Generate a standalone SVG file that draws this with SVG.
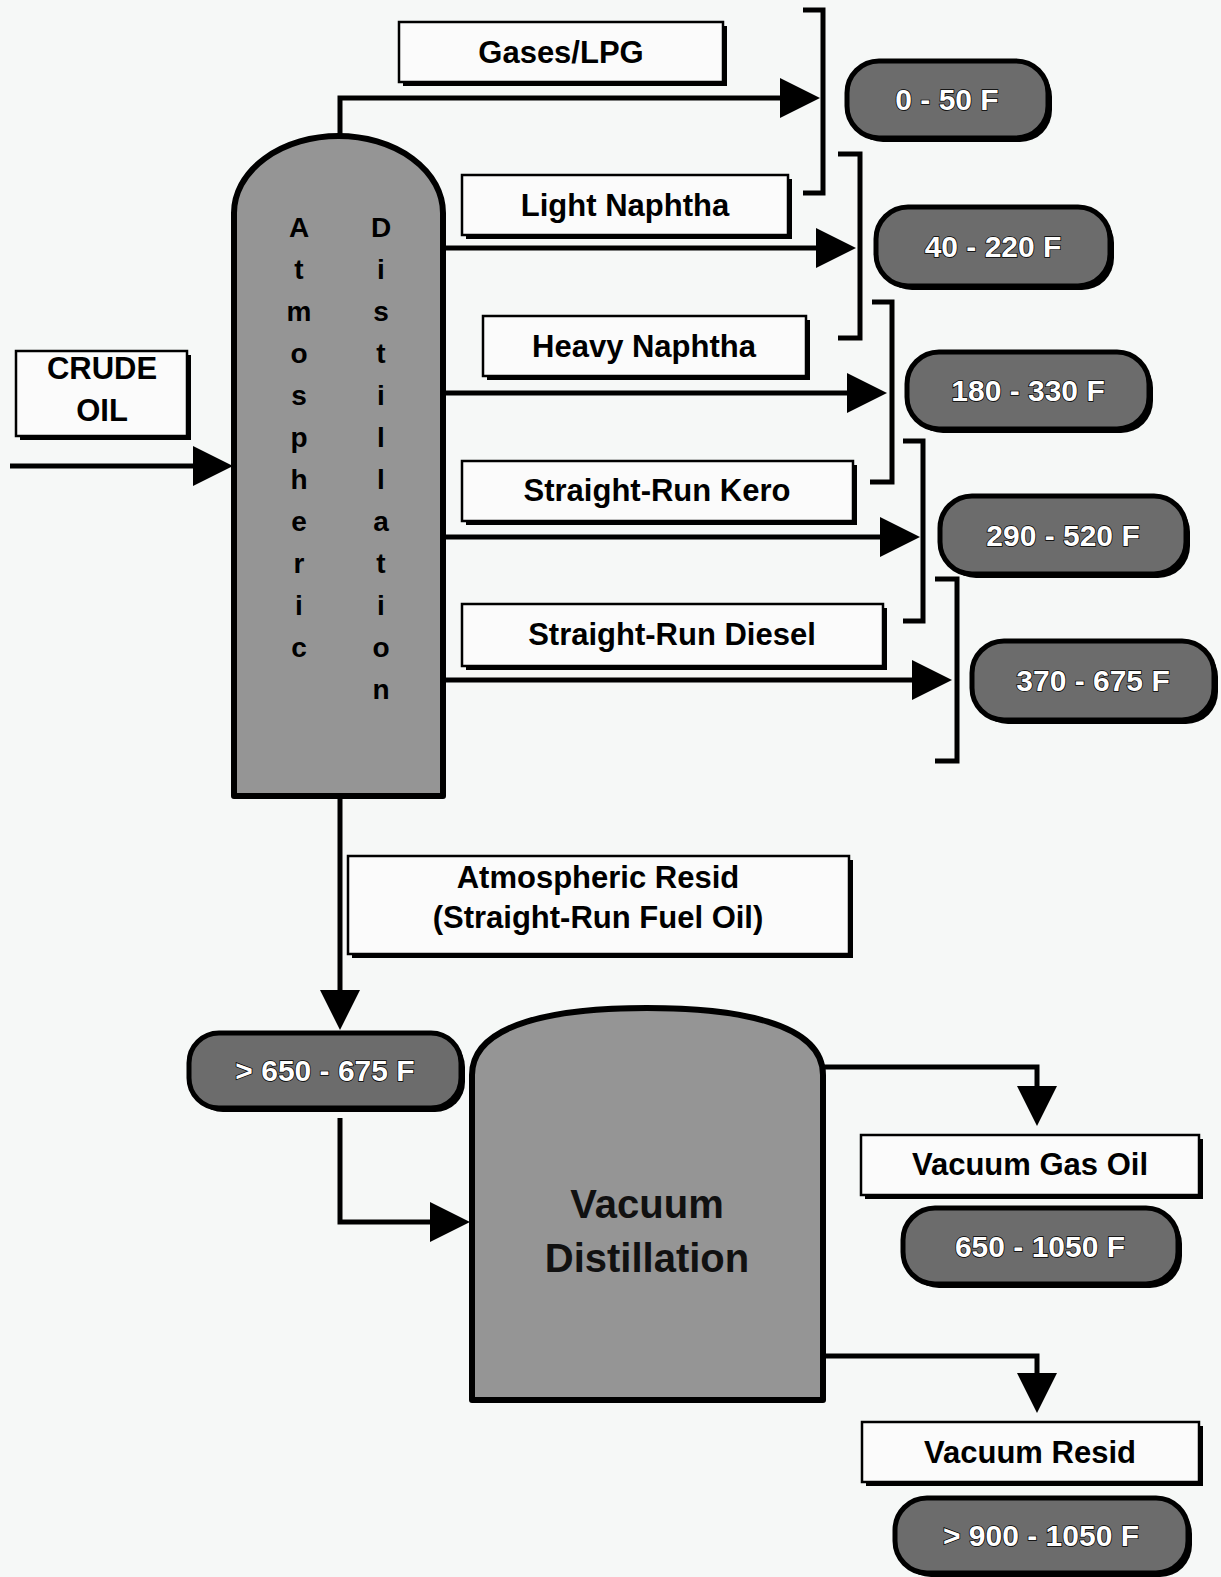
<svg xmlns="http://www.w3.org/2000/svg" width="1221" height="1577" viewBox="0 0 1221 1577">
<style>
.bg{fill:#f6f8f7}
.col{fill:#959595;stroke:#000;stroke-width:6;stroke-linejoin:round}
.box{fill:#fbfbfb;stroke:#000;stroke-width:2.5}
.sh{fill:#000}
.pill{fill:#6c6c6c;stroke:#000;stroke-width:5}
.lbl{font-family:"Liberation Sans",Arial,sans-serif;font-weight:bold;font-size:31px;fill:#000;text-anchor:middle}
.tmp{font-family:"Liberation Sans",Arial,sans-serif;font-weight:bold;font-size:30px;fill:#fff;stroke:#000;stroke-width:1.5;paint-order:stroke;text-anchor:middle}
.vert{font-family:"Liberation Sans",Arial,sans-serif;font-weight:bold;font-size:28px;fill:#000;text-anchor:middle}
.big{font-family:"Liberation Sans",Arial,sans-serif;font-weight:bold;font-size:40px;fill:#111;text-anchor:middle}
.ln{fill:none;stroke:#000;stroke-width:5;stroke-linejoin:miter}
.ar{fill:none;stroke:#000;stroke-width:5;marker-end:url(#ah)}
</style>
<defs>
<marker id="ah" markerUnits="userSpaceOnUse" markerWidth="44" markerHeight="44" refX="20" refY="20" orient="auto" viewBox="0 0 44 44">
<path d="M0,0 L40,20 L0,40 Z" fill="#000"/>
</marker>
</defs>
<rect class="bg" x="0" y="0" width="1221" height="1577"/>

<g id="connectors">
<path class="ar" d="M340,136 V98 H800"/>
<path class="ar" d="M443,248 H836"/>
<path class="ar" d="M443,393 H867"/>
<path class="ar" d="M443,537 H900"/>
<path class="ar" d="M443,680 H932"/>
<path class="ar" d="M10,466 H213"/>
<path class="ar" d="M340,796 V1010"/>
<path class="ar" d="M340,1118 V1222 H450"/>
<path class="ar" d="M823,1067 H1037 V1106"/>
<path class="ar" d="M823,1356 H1037 V1393"/>
<path class="ln" d="M803,10 H823 V193 H803"/>
<path class="ln" d="M838,154 H860 V338 H838"/>
<path class="ln" d="M872,302 H892 V482 H870"/>
<path class="ln" d="M903,441 H923 V621 H903"/>
<path class="ln" d="M935,579 H957 V761 H935"/>
</g>

<g id="atmospheric-column">
<path class="col" d="M234,796 V213 A104.5,77 0 0 1 443,213 V796 Z"/>
<text class="vert" x="299" y="237"><tspan x="299">A</tspan><tspan x="299" dy="42">t</tspan><tspan x="299" dy="42">m</tspan><tspan x="299" dy="42">o</tspan><tspan x="299" dy="42">s</tspan><tspan x="299" dy="42">p</tspan><tspan x="299" dy="42">h</tspan><tspan x="299" dy="42">e</tspan><tspan x="299" dy="42">r</tspan><tspan x="299" dy="42">i</tspan><tspan x="299" dy="42">c</tspan></text>
<text class="vert" x="381" y="237"><tspan x="381">D</tspan><tspan x="381" dy="42">i</tspan><tspan x="381" dy="42">s</tspan><tspan x="381" dy="42">t</tspan><tspan x="381" dy="42">i</tspan><tspan x="381" dy="42">l</tspan><tspan x="381" dy="42">l</tspan><tspan x="381" dy="42">a</tspan><tspan x="381" dy="42">t</tspan><tspan x="381" dy="42">i</tspan><tspan x="381" dy="42">o</tspan><tspan x="381" dy="42">n</tspan></text>
</g>

<g id="vacuum-column">
<path class="col" d="M472,1400 V1075 C472,1022 560,1008 647,1008 C734,1008 823,1022 823,1075 V1400 Z"/>
<text class="big" x="647" y="1218">Vacuum</text>
<text class="big" x="647" y="1272">Distillation</text>
</g>

<g id="crude-oil">
<rect class="sh" x="20" y="355" width="171" height="85"/>
<rect class="box" x="16" y="351" width="171" height="85"/>
<text class="lbl" x="102" y="379">CRUDE</text>
<text class="lbl" x="102" y="421">OIL</text>
</g>

<g id="gases-lpg">
<rect class="sh" x="403" y="26" width="324" height="60"/>
<rect class="box" x="399" y="22" width="324" height="60"/>
<text class="lbl" x="561" y="63">Gases/LPG</text>
</g>
<g id="light-naphtha">
<rect class="sh" x="466" y="179" width="326" height="60"/>
<rect class="box" x="462" y="175" width="326" height="60"/>
<text class="lbl" x="625" y="216">Light Naphtha</text>
</g>
<g id="heavy-naphtha">
<rect class="sh" x="487" y="320" width="323" height="60"/>
<rect class="box" x="483" y="316" width="323" height="60"/>
<text class="lbl" x="644" y="357">Heavy Naphtha</text>
</g>
<g id="straight-run-kero">
<rect class="sh" x="466" y="465" width="391" height="60"/>
<rect class="box" x="462" y="461" width="391" height="60"/>
<text class="lbl" x="657" y="501">Straight-Run Kero</text>
</g>
<g id="straight-run-diesel">
<rect class="sh" x="466" y="608" width="421" height="62"/>
<rect class="box" x="462" y="604" width="421" height="62"/>
<text class="lbl" x="672" y="645">Straight-Run Diesel</text>
</g>
<g id="atmospheric-resid">
<rect class="sh" x="352" y="860" width="501" height="98"/>
<rect class="box" x="348" y="856" width="501" height="98"/>
<text class="lbl" x="598" y="888">Atmospheric Resid</text>
<text class="lbl" x="598" y="928">(Straight-Run Fuel Oil)</text>
</g>
<g id="vacuum-gas-oil">
<rect class="sh" x="865" y="1139" width="338" height="60"/>
<rect class="box" x="861" y="1135" width="338" height="60"/>
<text class="lbl" x="1030" y="1175">Vacuum Gas Oil</text>
</g>
<g id="vacuum-resid">
<rect class="sh" x="866" y="1426" width="337" height="60"/>
<rect class="box" x="862" y="1422" width="337" height="60"/>
<text class="lbl" x="1030" y="1463">Vacuum Resid</text>
</g>

<g id="t-0-50">
<rect class="sh" x="851" y="65" width="201" height="77" rx="32"/>
<rect class="pill" x="847" y="61" width="201" height="77" rx="32"/>
<text class="tmp" x="947" y="110">0 - 50 F</text>
</g>
<g id="t-40-220">
<rect class="sh" x="880" y="211" width="234" height="79" rx="32"/>
<rect class="pill" x="876" y="207" width="234" height="79" rx="32"/>
<text class="tmp" x="993" y="257">40 - 220 F</text>
</g>
<g id="t-180-330">
<rect class="sh" x="911" y="356" width="242" height="77" rx="32"/>
<rect class="pill" x="907" y="352" width="242" height="77" rx="32"/>
<text class="tmp" x="1028" y="401">180 - 330 F</text>
</g>
<g id="t-290-520">
<rect class="sh" x="944" y="500" width="246" height="78" rx="32"/>
<rect class="pill" x="940" y="496" width="246" height="78" rx="32"/>
<text class="tmp" x="1063" y="546">290 - 520 F</text>
</g>
<g id="t-370-675">
<rect class="sh" x="976" y="645" width="242" height="79" rx="32"/>
<rect class="pill" x="972" y="641" width="242" height="79" rx="32"/>
<text class="tmp" x="1093" y="691">370 - 675 F</text>
</g>
<g id="t-650-675">
<rect class="sh" x="193" y="1037" width="272" height="75" rx="30"/>
<rect class="pill" x="189" y="1033" width="272" height="75" rx="30"/>
<text class="tmp" x="325" y="1081">&gt; 650 - 675 F</text>
</g>
<g id="t-650-1050">
<rect class="sh" x="907" y="1212" width="275" height="76" rx="32"/>
<rect class="pill" x="903" y="1208" width="275" height="76" rx="32"/>
<text class="tmp" x="1040" y="1257">650 - 1050 F</text>
</g>
<g id="t-900-1050">
<rect class="sh" x="899" y="1502" width="293" height="75" rx="32"/>
<rect class="pill" x="895" y="1498" width="293" height="75" rx="32"/>
<text class="tmp" x="1041" y="1546">&gt; 900 - 1050 F</text>
</g>
</svg>
